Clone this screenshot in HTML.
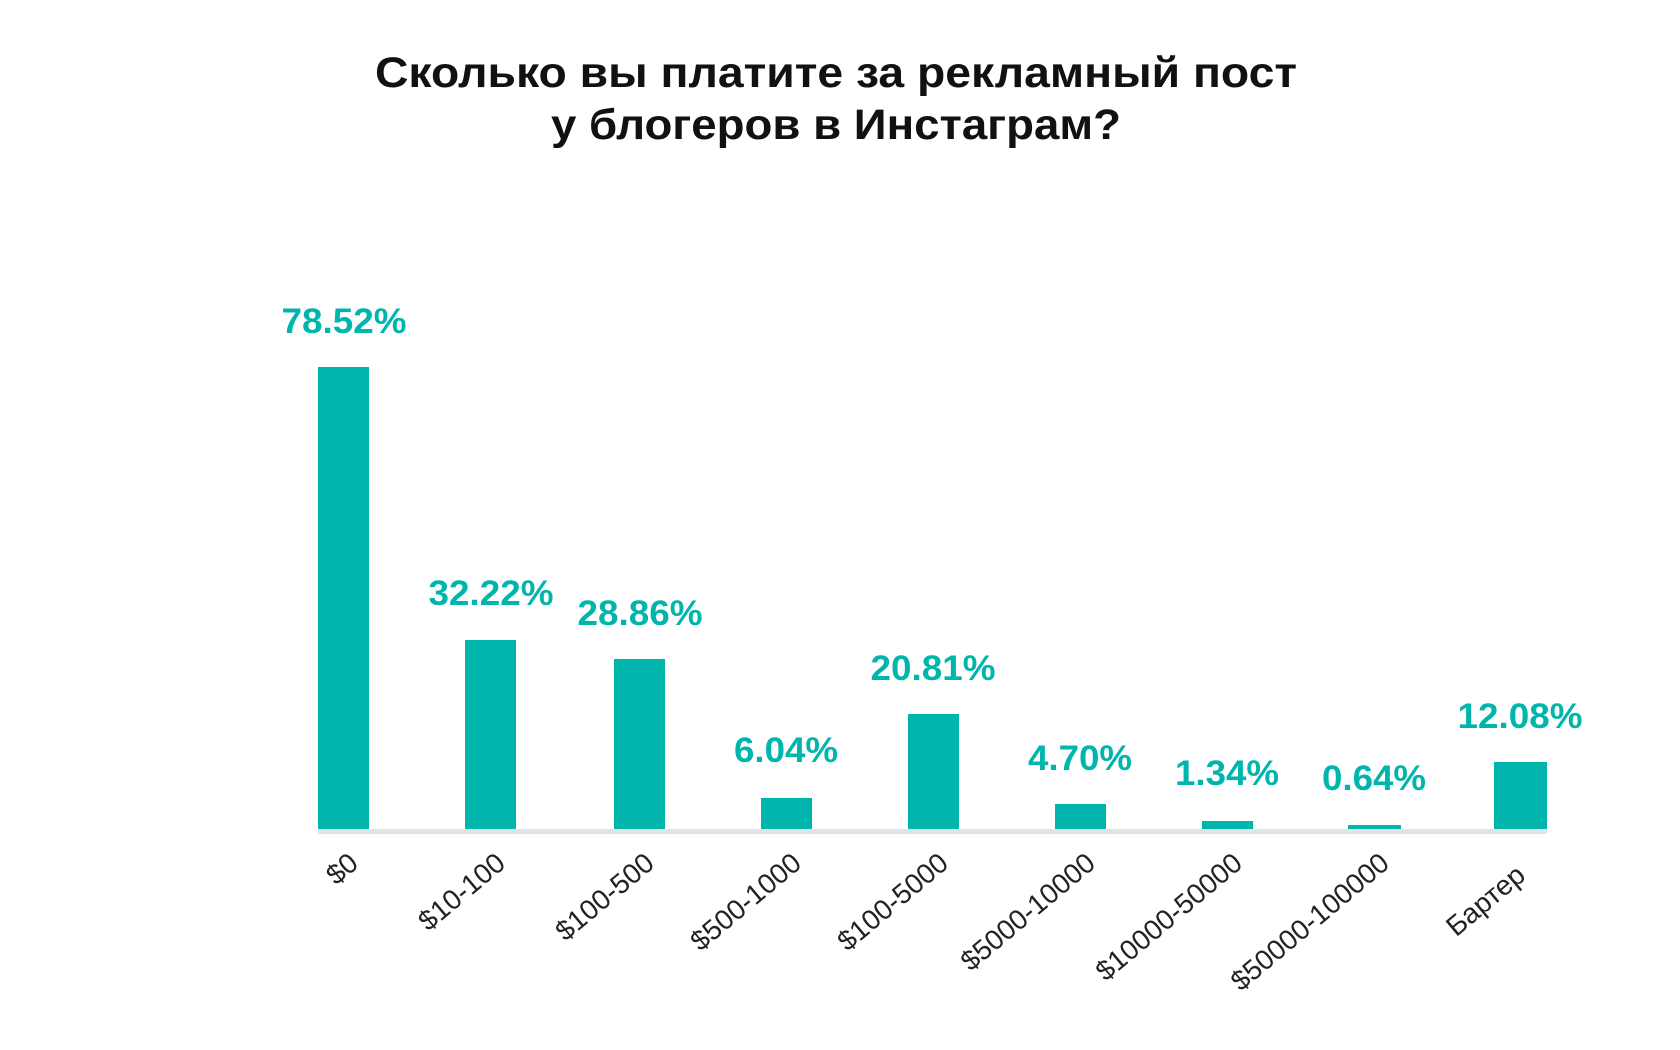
<!DOCTYPE html>
<html><head><meta charset="utf-8"><style>
html,body{margin:0;padding:0;background:#fff;}
svg{display:block;}
</style></head><body>
<svg width="1680" height="1050" xmlns="http://www.w3.org/2000/svg">
<g font-family="'Liberation Sans', 'DejaVu Sans', sans-serif" font-weight="bold" fill="#111" text-anchor="middle" font-size="43">
<text x="836" y="87" textLength="922" lengthAdjust="spacingAndGlyphs">Сколько вы платите за рекламный пост</text>
<text x="836" y="139" textLength="570" lengthAdjust="spacingAndGlyphs">у блогеров в Инстаграм?</text>
</g>
<rect x="318" y="829" width="1229" height="5" fill="#dde6e4"/>
<g fill="#00b5ab">
<rect x="318" y="367" width="51" height="462"/>
<rect x="465" y="640" width="51" height="189"/>
<rect x="614" y="659" width="51" height="170"/>
<rect x="761" y="798" width="51" height="31"/>
<rect x="908" y="714" width="51" height="115"/>
<rect x="1055" y="804" width="51" height="25"/>
<rect x="1202" y="821" width="51" height="8"/>
<rect x="1348" y="825" width="53" height="4"/>
<rect x="1494" y="762" width="53" height="67"/>
</g>
<g font-family="'Liberation Sans', sans-serif" font-weight="bold" fill="#00b5ab" text-anchor="middle" font-size="35">
<text x="344" y="333" textLength="125" lengthAdjust="spacingAndGlyphs">78.52%</text>
<text x="491" y="605" textLength="125" lengthAdjust="spacingAndGlyphs">32.22%</text>
<text x="640" y="625" textLength="125" lengthAdjust="spacingAndGlyphs">28.86%</text>
<text x="786" y="762" textLength="104" lengthAdjust="spacingAndGlyphs">6.04%</text>
<text x="933" y="680" textLength="125" lengthAdjust="spacingAndGlyphs">20.81%</text>
<text x="1080" y="770" textLength="104" lengthAdjust="spacingAndGlyphs">4.70%</text>
<text x="1227" y="785" textLength="104" lengthAdjust="spacingAndGlyphs">1.34%</text>
<text x="1374" y="790" textLength="104" lengthAdjust="spacingAndGlyphs">0.64%</text>
<text x="1520" y="728" textLength="125" lengthAdjust="spacingAndGlyphs">12.08%</text>
</g>
<g font-family="'Liberation Sans', 'DejaVu Sans', sans-serif" fill="#222" text-anchor="end" font-size="28">
<text transform="translate(360,866) rotate(-40)">$0</text>
<text transform="translate(507,866) rotate(-40)">$10-100</text>
<text transform="translate(656,866) rotate(-40)">$100-500</text>
<text transform="translate(803,866) rotate(-40)">$500-1000</text>
<text transform="translate(950,866) rotate(-40)">$100-5000</text>
<text transform="translate(1097,866) rotate(-40)">$5000-10000</text>
<text transform="translate(1244,866) rotate(-40)">$10000-50000</text>
<text transform="translate(1391,866) rotate(-40)">$50000-100000</text>
<text transform="translate(1527,878) rotate(-40)">Бартер</text>
</g>
</svg>
</body></html>
